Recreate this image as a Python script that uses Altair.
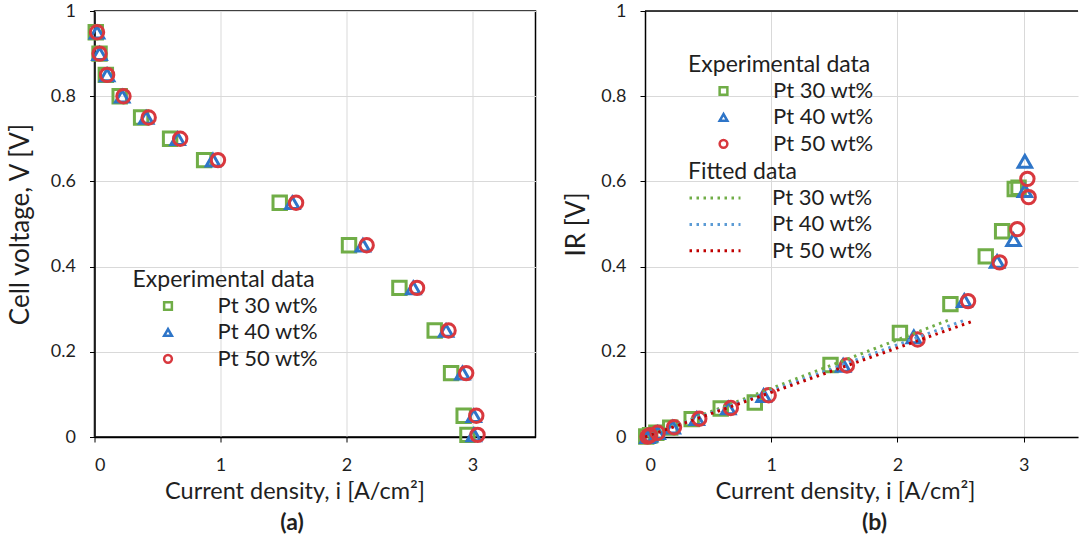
import altair as alt
import pandas as pd

# ---------------- data ----------------
series_names = ["Pt 30 wt%", "Pt 40 wt%", "Pt 50 wt%"]

voltage = [0.95, 0.90, 0.85, 0.80, 0.75, 0.70, 0.65, 0.55, 0.45, 0.35, 0.25, 0.15, 0.05, 0.005]

i_pt30 = [0.01, 0.04, 0.09, 0.20, 0.37, 0.60, 0.87, 1.47, 2.02, 2.42, 2.70, 2.83, 2.93, 2.96]
i_pt40 = [0.02, 0.04, 0.10, 0.22, 0.41, 0.66, 0.94, 1.57, 2.13, 2.53, 2.79, 2.92, 3.01, 3.01]
i_pt50 = [0.02, 0.04, 0.10, 0.23, 0.43, 0.68, 0.98, 1.60, 2.16, 2.56, 2.81, 2.95, 3.03, 3.04]

ir_pt30 = [0.001, 0.004, 0.010, 0.022, 0.042, 0.067, 0.081, 0.169, 0.244, 0.312, 0.424, 0.483, 0.582, 0.585]
ir_pt40 = [0.001, 0.004, 0.010, 0.023, 0.043, 0.068, 0.097, 0.168, 0.235, 0.320, 0.412, 0.463, 0.578, 0.647]
ir_pt50 = [0.001, 0.004, 0.010, 0.023, 0.043, 0.068, 0.098, 0.168, 0.229, 0.319, 0.410, 0.488, 0.606, 0.563]

fit_i_pt30 = [0.0, 2.42]
fit_ir_pt30 = [0.0, 0.276]
fit_i_pt40 = [0.0, 2.55]
fit_ir_pt40 = [0.0, 0.276]
fit_i_pt50 = [0.0, 2.59]
fit_ir_pt50 = [0.0, 0.271]

x_ticks = [0, 1, 2, 3]
y_ticks = [0, 0.2, 0.4, 0.6, 0.8, 1.0]

# ---------------- styling ----------------
marker_colors = ["#70AD47", "#2E75C8", "#D8383E"]
fit_colors = ["#70AD47", "#5B9BD5", "#C00000"]
marker_shapes = ["square", "triangle-up", "circle"]
FONT = "Lato"
TXT = "#1f1f1f"
GRID = "#d9d9d9"
X_TITLE_FS = 23.5
Y_TITLE_FS = 26
LEG_TITLE_FS = 23
LEG_LABEL_FS = 22

LEFT_W, RIGHT_W, H = 441, 433, 426

rows = []
for name, cur, ir in zip(series_names, [i_pt30, i_pt40, i_pt50], [ir_pt30, ir_pt40, ir_pt50]):
    for c, v, r in zip(cur, voltage, ir):
        rows.append({"series": name, "i": c, "V": v, "IR": r})
df = pd.DataFrame(rows)

fit_rows = []
for name, fx, fy in zip(series_names, [fit_i_pt30, fit_i_pt40, fit_i_pt50],
                        [fit_ir_pt30, fit_ir_pt40, fit_ir_pt50]):
    for a, b in zip(fx, fy):
        fit_rows.append({"fit": name, "i": a, "IR": b})
fit_df = pd.DataFrame(fit_rows)


def x_axis():
    return alt.Axis(title="Current density, i [A/cm²]", values=x_ticks, format="~g",
                    grid=True, gridColor=GRID, domainColor="black", domainWidth=1.5,
                    tickColor="black", tickSize=5, labelPadding=14, titlePadding=5.75,
                    labelFontSize=18, titleFontSize=X_TITLE_FS, labelColor=TXT, titleColor=TXT,
                    titleFontWeight="normal", labelFont=FONT, titleFont=FONT, titleX=200)


def y_axis(title, tpad):
    return alt.Axis(title=title, values=y_ticks, format="~g",
                    grid=True, gridColor=GRID, domainColor="black", domainWidth=1.5,
                    tickColor="black", tickSize=5, labelPadding=14, titlePadding=tpad,
                    labelFontSize=18, titleFontSize=Y_TITLE_FS, labelColor=TXT, titleColor=TXT,
                    titleFontWeight="normal", labelFont=FONT, titleFont=FONT)


def exp_legend(lx, ly):
    return alt.Legend(title="Experimental data", orient="none", legendX=lx, legendY=ly,
                      titleFontSize=LEG_TITLE_FS, titleFontWeight="normal", titleFont=FONT,
                      titleColor=TXT, titleLimit=500, labelLimit=400,
                      labelFontSize=LEG_LABEL_FS, labelFont=FONT, labelColor=TXT,
                      symbolSize=60, symbolStrokeWidth=2.5, symbolOffset=24.5, labelOffset=38.5,
                      clipHeight=18, rowPadding=4.4, titlePadding=5, padding=0)


color_scale = alt.Scale(domain=series_names, range=marker_colors)
shape_scale = alt.Scale(domain=series_names, range=marker_shapes)

# ---------------- panel (a) ----------------
pts_a = alt.Chart(df).mark_point(filled=False, size=180, strokeWidth=3, opacity=1).encode(
    x=alt.X("i:Q", scale=alt.Scale(domain=[0, 3.5], nice=False), axis=x_axis()),
    y=alt.Y("V:Q", scale=alt.Scale(domain=[0, 1], nice=False),
            axis=y_axis("Cell voltage, V [V]", 16.5)),
    color=alt.Color("series:N", scale=color_scale, legend=exp_legend(38, 258)),
    shape=alt.Shape("series:N", scale=shape_scale, legend=exp_legend(38, 258)),
)

panel_a = pts_a.properties(
    width=LEFT_W, height=H,
    view=alt.ViewBackground(stroke="black", strokeWidth=1.5),
    title=alt.TitleParams("(a)", orient="bottom", fontSize=23, fontWeight="bold", font=FONT,
                          color=TXT, anchor="middle", dx=-23, offset=8.25),
)

# ---------------- panel (b) ----------------
xb = alt.X("i:Q", scale=alt.Scale(domain=[0, RIGHT_W / 126.2], nice=False), axis=x_axis())
yb = alt.Y("IR:Q", scale=alt.Scale(domain=[0, 1], nice=False), axis=y_axis("IR [V]", 11.5))

pts_b = alt.Chart(df).mark_point(filled=False, size=180, strokeWidth=3, opacity=1).encode(
    x=xb, y=yb,
    color=alt.Color("series:N", scale=color_scale, legend=exp_legend(43, 43)),
    shape=alt.Shape("series:N", scale=shape_scale, legend=exp_legend(43, 43)),
)

fit_b = alt.Chart(fit_df).mark_line(strokeWidth=3, strokeDash=[2.5, 4.5]).encode(
    x=xb, y=yb,
    color=alt.Color("fit:N", scale=alt.Scale(domain=series_names, range=fit_colors),
                    legend=alt.Legend(title="Fitted data", orient="none", legendX=43, legendY=150,
                                      titleFontSize=LEG_TITLE_FS, titleFontWeight="normal",
                                      titleFont=FONT, titleColor=TXT, titleLimit=500,
                                      labelLimit=400,
                                      labelFontSize=LEG_LABEL_FS, labelFont=FONT,
                                      labelColor=TXT, symbolType="stroke", symbolSize=2601,
                                      symbolStrokeWidth=3, symbolDash=[2.5, 4.5],
                                      symbolOffset=0, labelOffset=30, clipHeight=18,
                                      rowPadding=4.4, titlePadding=5, padding=0)),
    detail="fit:N",
)

top_b = alt.Chart(alt.Data(values=[{}])).mark_rule(color="black", strokeWidth=1.5).encode(
    x=alt.value(0), x2=alt.value(RIGHT_W), y=alt.value(0)
)

panel_b = alt.layer(pts_b, fit_b, top_b).resolve_scale(
    color="independent", shape="independent"
).properties(
    width=RIGHT_W, height=H,
    view=alt.ViewBackground(stroke="transparent"),
    title=alt.TitleParams("(b)", orient="bottom", fontSize=23, fontWeight="bold", font=FONT,
                          color=TXT, anchor="middle", dx=13, offset=8.25),
)

chart = alt.hconcat(panel_a, panel_b, spacing=25.5).properties(
    padding={"left": 6.5, "top": 1, "right": 0, "bottom": 0},
    background="white",
)

chart.save("out.html", embed_options={"renderer": "svg", "actions": False})
